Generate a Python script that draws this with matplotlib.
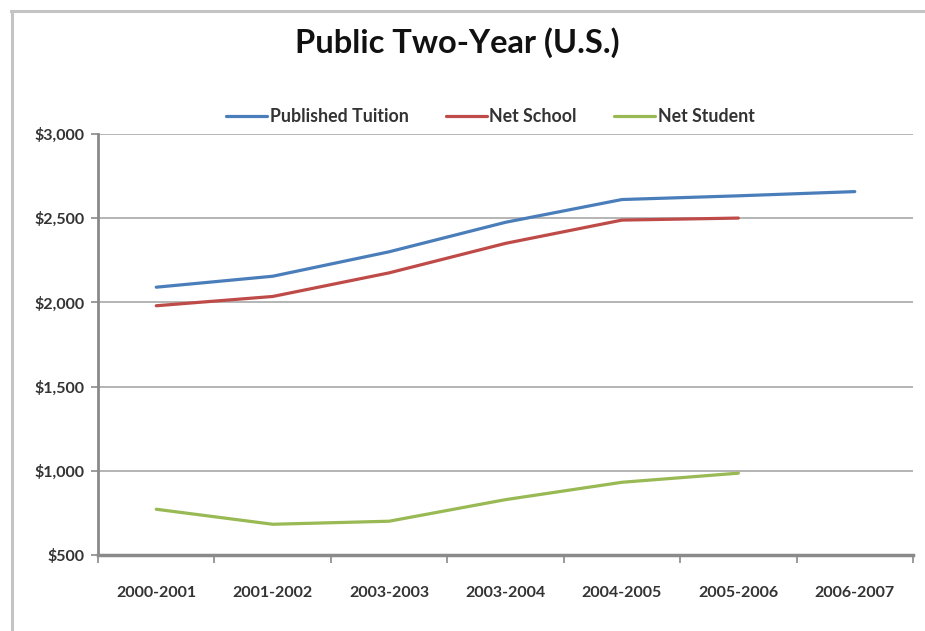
import numpy as np
import matplotlib
matplotlib.use('Agg')
import matplotlib.pyplot as plt
from matplotlib.lines import Line2D
from matplotlib.ticker import FuncFormatter

plt.rcParams['font.family'] = ['Lato', 'DejaVu Sans']

years = ['2000-2001', '2001-2002', '2003-2003', '2003-2004',
         '2004-2005', '2005-2006', '2006-2007']
published_tuition = [2090, 2155, 2300, 2475, 2610, 2632, 2657]
net_school = [1980, 2035, 2175, 2350, 2488, 2500]
net_student = [773, 684, 702, 830, 933, 987]

fig = plt.figure(figsize=(9.25, 6.31), dpi=100)
ax = fig.add_axes([0.106, 0.120, 0.881, 0.668])

x = np.arange(len(years))
ax.plot(x[:len(published_tuition)], published_tuition, color='#4a7ebb', lw=2.3,
        label='Published Tuition', solid_capstyle='round')
ax.plot(x[:len(net_school)], net_school, color='#be4b48', lw=2.3,
        label='Net School', solid_capstyle='round')
ax.plot(x[:len(net_student)], net_student, color='#98b954', lw=2.3,
        label='Net Student', solid_capstyle='round')

ax.set_xlim(-0.5, len(years) - 0.5)
ax.set_ylim(500, 3000)
ax.set_yticks(np.arange(500, 3001, 500))
ax.yaxis.set_major_formatter(FuncFormatter(lambda v, p: f'${v:,.0f}'))
ax.grid(axis='y', color='#b4b4b4', lw=1.4)
ax.set_axisbelow(True)

# category labels in the middle, tick marks on the boundaries
ax.set_xticks(x)
ax.set_xticklabels(years, fontweight='bold')
ax.set_xticks(np.arange(-0.5, len(years)), minor=True)
ax.tick_params(axis='x', which='major', length=0, pad=22, labelsize=11.5, colors='#333333')
ax.tick_params(axis='x', which='minor', length=6, width=1.2, color='#8a8a8a')
ax.tick_params(axis='y', length=5, width=1.2, color='#8a8a8a', labelsize=11.5,
               labelcolor='#333333', pad=5)
for lbl in ax.get_yticklabels():
    lbl.set_fontweight('bold')

for side in ('top', 'right'):
    ax.spines[side].set_visible(False)
ax.spines['left'].set_color('#8a8a8a')
ax.spines['left'].set_linewidth(2)
ax.spines['bottom'].set_color('#8a8a8a')
ax.spines['bottom'].set_linewidth(2.5)

fig.text(0.494, 0.932, 'Public Two-Year (U.S.)', ha='center', va='center',
         fontsize=23.5, fontweight='bold', color='#111111')

leg = fig.legend(loc='center', bbox_to_anchor=(0.53, 0.815), ncol=3, frameon=False,
                 prop={'size': 12.8, 'weight': 'bold'}, handlelength=2.3,
                 handletextpad=0.15, columnspacing=2.1)
for t in leg.get_texts():
    t.set_color('#333333')

# outer chart border
fig.add_artist(Line2D([11 / 925, 1.0], [1 - 10.5 / 631] * 2, color='#c4c4c4', lw=2.2,
                      transform=fig.transFigure))
fig.add_artist(Line2D([11.5 / 925] * 2, [0.0, 1 - 10.5 / 631], color='#c4c4c4', lw=2.2,
                      transform=fig.transFigure))

fig.savefig('out.png', dpi=100)
